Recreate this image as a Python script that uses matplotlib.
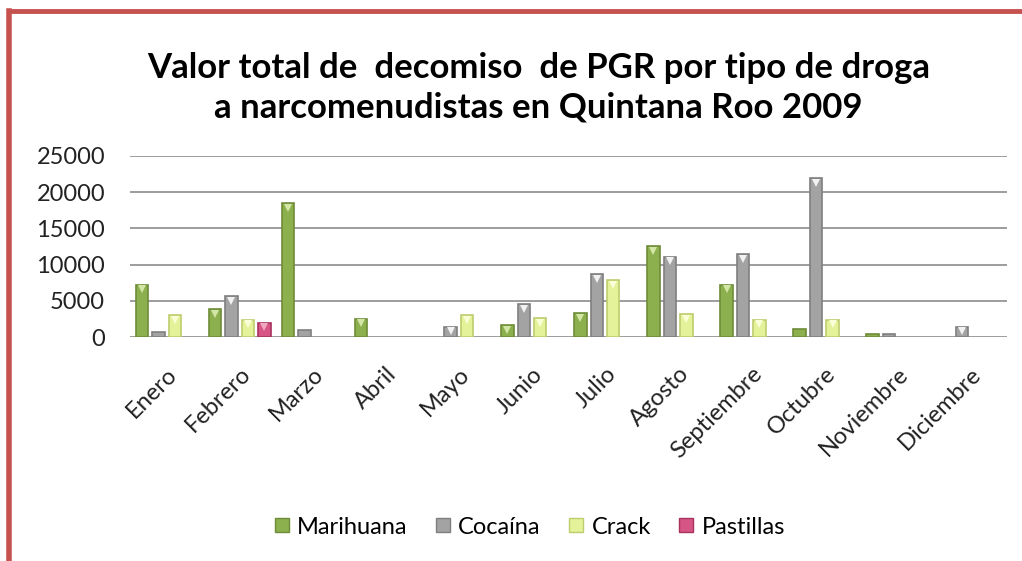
import matplotlib
matplotlib.use("Agg")
import matplotlib.pyplot as plt
import numpy as np
from matplotlib.lines import Line2D
import matplotlib.transforms as mtransforms

months = ["Enero", "Febrero", "Marzo", "Abril", "Mayo", "Junio", "Julio",
          "Agosto", "Septiembre", "Octubre", "Noviembre", "Diciembre"]
series_names = ["Marihuana", "Cocaína", "Crack", "Pastillas"]
marihuana = [7200, 3800, 18450, 2550, 0, 1600, 3250, 12550, 7200, 1100, 400, 0]
cocaina = [750, 5600, 900, 0, 1450, 4550, 8650, 11100, 11450, 21950, 400, 1450]
crack = [3000, 2350, 0, 0, 3000, 2600, 7850, 3150, 2350, 2350, 0, 0]
pastillas = [0, 2000, 0, 0, 0, 0, 0, 0, 0, 0, 0, 0]
yticks = [0, 5000, 10000, 15000, 20000, 25000]

face = ["#8DB04F", "#A3A3A3", "#E4F29A", "#D65584"]
edge = ["#6E8C37", "#7F7F7F", "#BFCC6E", "#A8335F"]
tri = ["#D2E6A6", "#F2F2F2", "#FAFFD8", "#F0A8C0"]

font = "Lato"
fig = plt.figure(figsize=(10.22, 5.61), dpi=100)
ax = fig.add_axes([130/1022, 1-337/561, 877/1022, 181/561])

x = np.arange(len(months))
slot = 0.225
width = 0.17
data = [marihuana, cocaina, crack, pastillas]
down = mtransforms.ScaledTranslation(0, -4.5/100, fig.dpi_scale_trans)
for i, vals in enumerate(data):
    vals = np.asarray(vals, dtype=float)
    off = (i - 1.5) * slot
    nz = vals > 0
    ax.bar(x[nz] + off, vals[nz], width, color=face[i], edgecolor=edge[i],
           linewidth=1.2, zorder=3)
    big = vals > 1200
    ax.plot(x[big] + off, vals[big], linestyle="none", marker="v", markersize=5.5,
            markerfacecolor=tri[i], markeredgewidth=0, zorder=4,
            transform=ax.transData + down)

ax.set_xlim(-0.5, len(months) - 0.5)
ax.set_ylim(0, 25000)
ax.set_yticks(yticks)
ax.set_yticklabels([str(v) for v in yticks], fontsize=17, family=font, color="#222222")
ax.yaxis.grid(True, color="#8C8C8C", linewidth=1.2, zorder=0)
ax.set_axisbelow(True)
for s in ax.spines.values():
    s.set_visible(False)
ax.tick_params(axis="both", length=0)
ax.tick_params(axis="y", pad=18)
ax.set_xticks(x)
ax.set_xticklabels(months, rotation=45, ha="right", va="top", rotation_mode="anchor",
                   fontsize=17, family=font, color="#222222")
ax.tick_params(axis="x", pad=19)

fig.text(0.527, 1-68/561, "Valor total de  decomiso  de PGR por tipo de droga",
         ha="center", va="center", fontsize=25, fontweight="bold", family=font)
fig.text(0.527, 1-108/561, "a narcomenudistas en Quintana Roo 2009",
         ha="center", va="center", fontsize=25, fontweight="bold", family=font)

handles = [Line2D([], [], marker="s", linestyle="none", markersize=10,
                  markerfacecolor=face[i], markeredgecolor=edge[i]) for i in range(4)]
fig.legend(handles, series_names, loc="center", bbox_to_anchor=(0.516, 1-527/561),
           ncol=4, frameon=False, prop={"family": font, "size": 17},
           handletextpad=0.15, columnspacing=1.0, handlelength=1.0)

# red frame (top and left)
fig.add_artist(Line2D([8.5/1022, 1], [1-10.5/561, 1-10.5/561], color="#C65250", linewidth=3.5,
                      transform=fig.transFigure))
fig.add_artist(Line2D([8.5/1022, 8.5/1022], [0, 1-10.5/561], color="#C65250", linewidth=4,
                      transform=fig.transFigure))

fig.savefig("out.png", dpi=100)
